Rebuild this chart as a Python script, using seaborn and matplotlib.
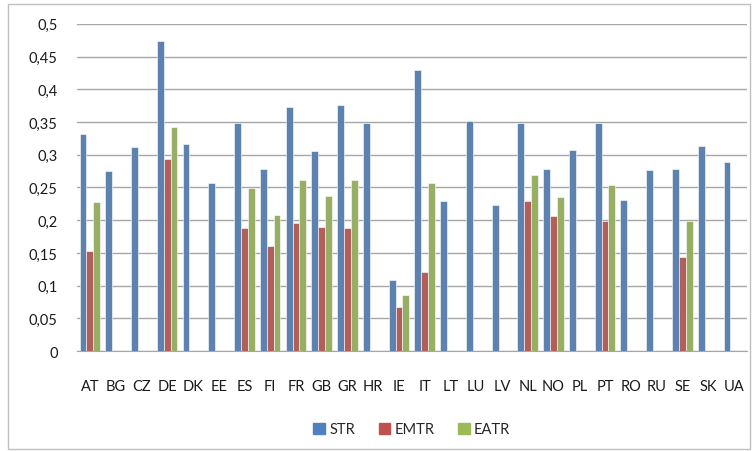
import numpy as np
import pandas as pd
import matplotlib.pyplot as plt
import matplotlib.patches as mpatches
from matplotlib.ticker import FuncFormatter
import seaborn as sns

# -------------------------------
# Data
# -------------------------------
countries = ["AT", "BG", "CZ", "DE", "DK", "EE", "ES", "FI", "FR", "GB", "GR", "HR", "IE",
             "IT", "LT", "LU", "LV", "NL", "NO", "PL", "PT", "RO", "RU", "SE", "SK", "UA"]
nan = np.nan
str_vals = [0.331, 0.275, 0.312, 0.474, 0.317, 0.257, 0.349, 0.279, 0.373, 0.306, 0.376, 0.349, 0.109,
            0.429, 0.230, 0.352, 0.223, 0.349, 0.279, 0.308, 0.349, 0.231, 0.277, 0.279, 0.314, 0.289]
emtr_vals = [0.153, nan, nan, 0.294, nan, nan, 0.188, 0.161, 0.196, 0.190, 0.188, nan, 0.067,
             0.121, nan, nan, nan, 0.230, 0.207, nan, 0.199, nan, nan, 0.144, nan, nan]
eatr_vals = [0.228, nan, nan, 0.343, nan, nan, 0.249, 0.208, 0.262, 0.237, 0.262, nan, 0.086,
             0.257, nan, nan, nan, 0.269, 0.236, nan, 0.254, nan, nan, 0.199, nan, nan]
series = ["STR", "EMTR", "EATR"]
colors = ["#4F81BD", "#C0504D", "#9BBB59"]

df = pd.DataFrame({"country": countries, "STR": str_vals, "EMTR": emtr_vals, "EATR": eatr_vals})
long_df = df.melt(id_vars="country", var_name="series", value_name="value")

# -------------------------------
# Plot
# -------------------------------
sns.set_style("white")
plt.rcParams["font.family"] = ["Lato", "DejaVu Sans"]

fig = plt.figure(figsize=(7.55, 4.52), dpi=100)
ax = fig.add_axes([0.102, 0.221, 0.887, 0.724])

sns.barplot(data=long_df, x="country", y="value", hue="series", hue_order=series,
            order=countries, palette=colors, width=0.8, edgecolor="white", linewidth=0.4,
            errorbar=None, ax=ax, zorder=3)

ax.set_ylim(0, 0.5)
ax.set_xlim(-0.5, len(countries) - 0.5)
ax.set_yticks(np.arange(0, 0.501, 0.05))
ax.yaxis.set_major_formatter(FuncFormatter(lambda v, p: ("%g" % round(v, 2)).replace(".", ",")))
ax.grid(axis="y", color="#A6A6A6", linewidth=1, zorder=0)
ax.set_axisbelow(True)
ax.set_xlabel("")
ax.set_ylabel("")
for side in ["left", "right", "top"]:
    ax.spines[side].set_visible(False)
ax.spines["bottom"].set_color("#A6A6A6")
ax.tick_params(axis="both", length=0, labelsize=10.5, colors="#1a1a1a")
ax.tick_params(axis="y", pad=14)
ax.tick_params(axis="x", pad=20)

handles = [mpatches.Patch(color=c, label=s) for c, s in zip(colors, series)]
ax.legend(handles=handles, loc="upper center", bbox_to_anchor=(0.5, -0.177), ncol=3, frameon=False,
          fontsize=10.5, handlelength=0.8, handleheight=0.8, handletextpad=0.3, columnspacing=1.6)

# chart border
fig.patches.append(mpatches.Rectangle((0.011, 0.004), 0.982, 0.985, transform=fig.transFigure,
                                      fill=False, edgecolor="#BFBFBF", linewidth=1))

plt.savefig("out.png", dpi=100)
plt.close()
